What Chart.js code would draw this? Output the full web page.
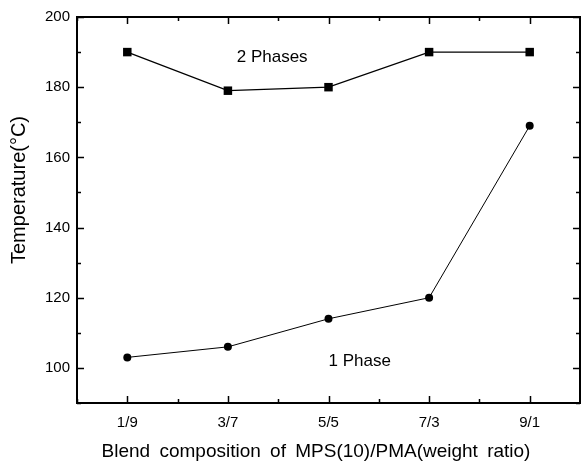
<!DOCTYPE html>
<html>
<head>
<meta charset="utf-8">
<script src="https://cdn.jsdelivr.net/npm/chart.js@4/dist/chart.umd.min.js"></script>
<style>
  html, body { margin: 0; padding: 0; background: #fff; }
  #wrap { width: 581px; height: 466px; }
</style>
</head>
<body>
<div id="wrap"><canvas id="c" width="581" height="466"></canvas></div>
<script>
const categories = ['1/9', '3/7', '5/5', '7/3', '9/1'];
const twoPhaseTemps = [190, 179, 180, 190, 190];
const onePhaseTemps = [103, 106, 114, 120, 169];
const yTickLabels = [100, 120, 140, 160, 180, 200];
const xTitle = 'Blend composition of MPS(10)/PMA(weight ratio)';
const yTitle = 'Temperature(°C)';
const regionLabels = ['2 Phases', '1 Phase'];
const regionLabelPos = [{x: 2.44, y: 188.6}, {x: 3.31, y: 102}];

const toPoints = arr => arr.map((v, i) => ({x: i + 1, y: v}));

const framePlugin = {
  id: 'frame',
  afterDraw(chart) {
    const ctx = chart.ctx;
    const a = chart.chartArea;
    const xs = chart.scales.x, ys = chart.scales.y;
    ctx.save();
    ctx.strokeStyle = '#000';
    ctx.lineWidth = 2;
    ctx.strokeRect(a.left, a.top, a.right - a.left, a.bottom - a.top);
    ctx.lineWidth = 1.5;
    ctx.beginPath();
    xs.ticks.forEach(t => {
      const px = Math.round(xs.getPixelForValue(t.value)) + 0.5;
      const major = Math.abs(t.value - Math.round(t.value)) < 1e-6;
      const len = major ? 7 : 4;
      ctx.moveTo(px, a.bottom); ctx.lineTo(px, a.bottom - len);
      ctx.moveTo(px, a.top); ctx.lineTo(px, a.top + len);
    });
    ys.ticks.forEach(t => {
      const py = Math.round(ys.getPixelForValue(t.value)) + 0.5;
      const major = yTickLabels.includes(t.value);
      const len = major ? 7 : 4;
      ctx.moveTo(a.left, py); ctx.lineTo(a.left + len, py);
      ctx.moveTo(a.right, py); ctx.lineTo(a.right - len, py);
    });
    ctx.stroke();

    // region labels
    ctx.fillStyle = '#000';
    ctx.font = "17px 'Liberation Sans', Arial, sans-serif";
    ctx.textAlign = 'center';
    ctx.textBaseline = 'middle';
    regionLabels.forEach((txt, i) => {
      const p = regionLabelPos[i];
      ctx.fillText(txt, xs.getPixelForValue(p.x), ys.getPixelForValue(p.y));
    });

    // axis titles
    ctx.font = "19px 'Liberation Sans', Arial, sans-serif";
    try { ctx.wordSpacing = '4px'; } catch (e) {}
    ctx.fillText(xTitle, 316, 452);
    try { ctx.wordSpacing = '0px'; } catch (e) {}
    ctx.font = "20px 'Liberation Sans', Arial, sans-serif";
    ctx.translate(19, 190);
    ctx.rotate(-Math.PI / 2);
    ctx.fillText(yTitle, 0, 0);
    ctx.restore();
  }
};

new Chart(document.getElementById('c'), {
  type: 'line',
  data: {
    datasets: [
      {
        label: '2 Phases',
        data: toPoints(twoPhaseTemps),
        borderColor: '#000',
        backgroundColor: '#000',
        borderWidth: 1.3,
        pointStyle: 'rect',
        pointRadius: 6,
        pointBorderWidth: 0,
        tension: 0,
        fill: false
      },
      {
        label: '1 Phase',
        data: toPoints(onePhaseTemps),
        borderColor: '#000',
        backgroundColor: '#000',
        borderWidth: 1,
        pointStyle: 'circle',
        pointRadius: 4,
        pointBorderWidth: 0,
        tension: 0,
        fill: false
      }
    ]
  },
  options: {
    responsive: false,
    animation: false,
    devicePixelRatio: 1,
    layout: { autoPadding: false, padding: { top: 17, right: 1, left: 0, bottom: 0 } },
    plugins: { legend: { display: false }, tooltip: { enabled: false } },
    events: [],
    scales: {
      x: {
        type: 'linear',
        min: 0.5,
        max: 5.5,
        grid: { display: false, drawTicks: false },
        border: { display: false },
        ticks: {
          stepSize: 0.5,
          autoSkip: false,
          maxRotation: 0,
          padding: 11,
          color: '#000',
          font: { family: "'Liberation Sans Narrow', 'Liberation Sans', Arial, sans-serif", size: 15 },
          callback: v => (Math.abs(v - Math.round(v)) < 1e-6 && v >= 1 && v <= categories.length) ? categories[Math.round(v) - 1] : ''
        },
        afterFit: s => { s.height = 63; s.paddingRight = 0; s.paddingLeft = 0; }
      },
      y: {
        type: 'linear',
        min: 90,
        max: 200,
        grid: { display: false, drawTicks: false },
        border: { display: false },
        ticks: {
          stepSize: 10,
          autoSkip: false,
          padding: 7,
          color: '#000',
          font: { family: "'Liberation Sans Narrow', 'Liberation Sans', Arial, sans-serif", size: 15 },
          callback: v => yTickLabels.includes(v) ? String(v) : ''
        },
        afterFit: s => { s.width = 77; }
      }
    }
  },
  plugins: [framePlugin]
});
</script>
</body>
</html>
